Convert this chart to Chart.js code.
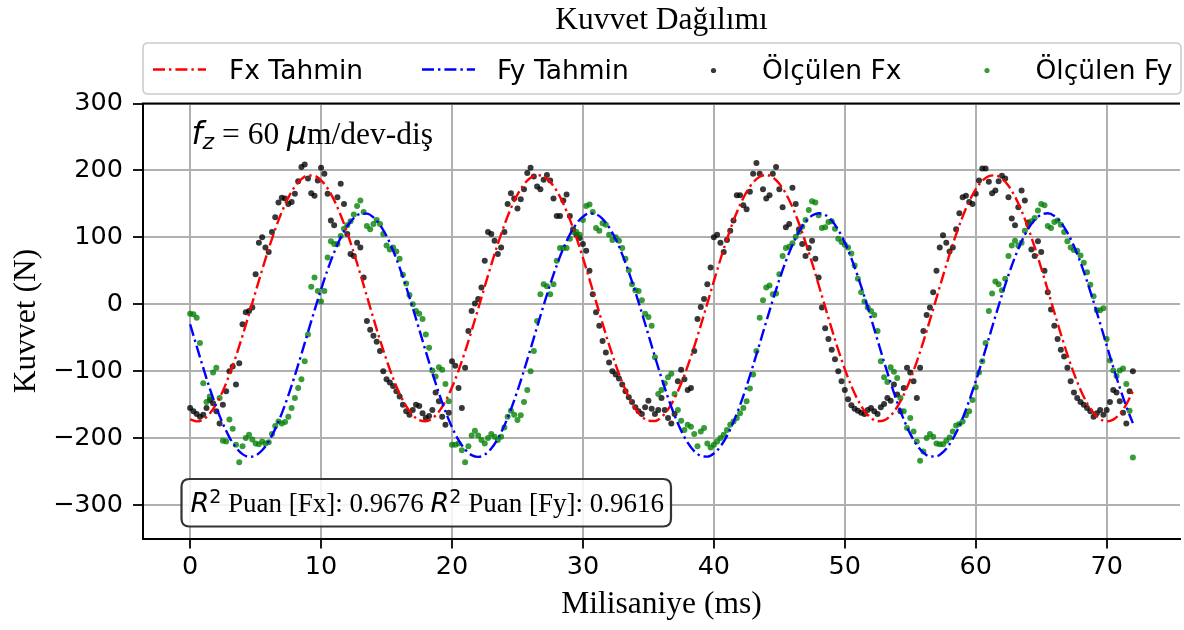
<!DOCTYPE html>
<html><head><meta charset="utf-8">
<script src="https://cdn.jsdelivr.net/npm/chart.js@4"></script>
<style>html,body{margin:0;padding:0;background:#fff}</style>
</head><body>
<canvas id="c" width="1184" height="630"></canvas>
<script>
const chartTitle = 'Kuvvet Dağılımı';
const xAxisLabel = 'Milisaniye (ms)';
const yAxisLabel = 'Kuvvet (N)';
const seriesNames = ['Fx Tahmin', 'Fy Tahmin', 'Ölçülen Fx', 'Ölçülen Fy'];
const xTickValues = [0, 10, 20, 30, 40, 50, 60, 70];
const yTickValues = [-300, -200, -100, 0, 100, 200, 300];
const feedLabel = { sym: 'f', sub: 'z', mid: ' = 60 ', mu: 'μ', tail: 'm/dev-diş' };
const scoreLabel = ['Puan [Fx]: ', '0.9676', 'Puan [Fy]: ', '0.9616'];

const predictionStepMs = 0.5;
const measurementStepMs = 0.25;

const predFx = [
 -171.9,-175.0,-172.1,-163.3,-148.9,-129.4,-105.3,-77.6,-47.0,-14.5,
 18.7,51.5,83.0,112.1,137.9,159.4,176.0,187.1,192.5,191.9,
 185.3,173.1,155.4,133.0,106.5,76.8,45.0,12.0,-21.1,-53.3,
 -83.4,-110.5,-133.7,-152.2,-165.6,-173.2,-174.9,-170.5,-160.4,-144.7,
 -124.0,-99.0,-70.4,-39.3,-6.6,26.6,59.3,90.3,118.6,143.5,
 163.8,179.2,189.0,192.9,190.9,182.9,169.3,150.4,126.9,99.6,
 69.4,37.2,4.0,-29.0,-60.7,-90.2,-116.5,-138.6,-155.9,-167.9,
 -174.1,-174.4,-168.6,-157.1,-140.2,-118.3,-92.4,-63.2,-31.6,1.4,
 34.5,66.9,97.4,125.0,148.7,168.0,182.0,190.5,193.0,189.5,
 180.1,165.2,145.2,120.7,92.6,61.8,29.2,-4.0,-36.8,-68.1,
 -96.9,-122.2,-143.2,-159.4,-170.0,-174.7,-173.5,-166.4,-153.5,-135.3,
 -112.5,-85.6,-55.7,-23.7,9.3,42.4,74.4,104.3,131.0,153.8,
 171.8,184.6,191.6,192.7,187.8,177.1,160.8,139.6,114.3,85.4,
 54.1,21.3,-11.9,-44.5,-75.2,-103.3,-127.7,-147.6,-162.4,-171.6,
 -175.0,-172.4,-163.8,-149.6,-130.3
];
const predFy = [
 -29.9,-62.8,-95.1,-125.8,-153.9,-178.5,-198.8,-214.1,-223.9,-227.9,
 -226.0,-218.2,-204.9,-186.2,-163.1,-136.2,-106.3,-74.5,-41.7,-9.0,
 22.4,51.6,77.6,99.6,116.9,128.8,135.1,135.4,129.8,118.6,
 101.9,80.4,54.8,26.0,-5.3,-37.8,-70.6,-102.7,-132.8,-160.2,
 -183.8,-202.9,-216.9,-225.4,-228.0,-224.7,-215.5,-200.8,-181.1,-157.1,
 -129.2,-98.8,-66.6,-33.8,-1.4,29.7,58.2,83.3,104.2,120.2,
 130.9,135.7,134.6,127.7,115.0,97.2,74.6,48.2,18.7,-13.0,
 -45.7,-78.4,-110.1,-139.7,-166.2,-188.8,-206.8,-219.5,-226.5,-227.7,
 -223.0,-212.5,-196.6,-175.7,-150.7,-122.2,-91.2,-58.8,-25.9,6.2,
 36.7,64.5,88.7,108.5,123.3,132.5,136.0,133.5,125.2,111.2,
 92.2,68.6,41.4,11.2,-20.8,-53.6,-86.2,-117.4,-146.3,-172.0,
 -193.6,-210.3,-221.7,-227.4,-227.1,-221.0,-209.1,-192.0,-170.1,-144.1,
 -115.0,-83.5,-50.9,-18.1,13.8,43.7,70.7,93.9,112.5,126.0,
 133.9,135.9,132.0,122.3,107.1,87.0,62.4,34.4,3.7,-28.6,
 -61.5,-93.8,-124.6,-152.8,-177.6
];

const measuredFx = [
 -155,-160,-164,-168, -165,-155,-143,-148, -160,-178,-150,-130, -100,-93,-120,-88,
 -30,-12,-10,-5, 45,92,100,85, 78,108,130,152, 159,158,150,153,
 165,184,205,209, 188,166,162,185, 204,195,165,125, 118,160,180,150,
 105,75,72,92, 85,40,-25,-38, -47,-56,-70,-100, -112,-117,-122,-130,
 -138,-150,-160,-165, -158,-150,-152,-163, -170,-167,-158,-132, -145,-168,-180,-162,
 -85,-92,-125,-155, -95,-40,-10,1, 8,25,65,108, 105,95,75,85,
 108,150,166,158, 143,157,172,196, 204,191,176,172, 186,193,185,158,
 132,132,155,164, 132,112,104,99, 90,80,50,15, -12,-32,-55,-72,
 -87,-100,-105,-111, -120,-130,-139,-146, -154,-160,-164,-154, -144,-156,-164,-158,
 -140,-158,-170,-178, -164,-115,-98,-112, -128,-125,-70,-22, -4,8,30,55,
 100,104,92,78, 96,110,125,163, 163,148,142,168, 195,211,195,172,
 158,163,195,205, 172,145,115,120, 174,150,112,90, 72,84,95,68,
 40,-5,-36,-52, -68,-82,-100,-115, -128,-142,-151,-156, -159,-162,-164,-158,
 -155,-160,-164,-154, -149,-140,-144,-120, -135,-160,-125,-95, -102,-115,-140,-95,
 -40,-16,-5,18, 50,85,103,92, 79,85,112,136, 160,162,153,150,
 165,185,203,203, 183,166,170,184, 192,188,160,128, 118,145,170,155,
 122,82,72,94, 78,50,18,-8, -32,-52,-68,-78, -95,-115,-132,-140,
 -146,-150,-155,-160, -168,-163,-158,-165, -158,-146,-128,-132, -145,-162,-178,-130,
 -100
];
const measuredFy = [
 -14,-15,-20,-58, -118,-146,-138,-102, -95,-140,-204,-205, -172,-186,-210,-236,
 -212,-200,-195,-202, -208,-209,-205,-208, -206,-194,-182,-175, -178,-176,-168,-155,
 -140,-125,-112,-85, -45,26,40,20, 4,20,70,94, 90,90,102,113,
 118,124,134,147, 155,138,117,112, 120,126,120,105, 88,82,85,79,
 68,44,31,14, 0,-10,-14,-22, -45,-65,-99,-108, -94,-98,-119,-145,
 -210,-210,-208,-218, -236,-212,-196,-189, -196,-203,-208,-200, -194,-198,-203,-198,
 -184,-168,-159,-165, -173,-166,-146,-128, -100,-70,-25,15, 30,27,15,30,
 65,84,84,84, 98,108,108,104, 126,147,149,138, 114,110,121,119,
 104,96,100,95, 84,68,51,30, 21,20,6,-14, -19,-32,-79,-134,
 -128,-118,-109,-104, -134,-158,-174,-188, -180,-183,-194,-212, -190,-185,-208,-214,
 -210,-205,-200,-195, -188,-180,-175,-170, -163,-155,-145,-126, -105,-70,-20,6,
 25,28,15,16, 45,72,84,86, 91,101,108,116, 126,141,154,152,
 133,114,115,123, 124,113,98,93, 89,85,76,58, 38,18,4,-5,
 -10,-16,-40,-85, -109,-116,-94,-101, -110,-140,-160,-185, -170,-190,-205,-234,
 -220,-200,-194,-198, -208,-209,-209,-204, -199,-190,-181,-179, -175,-166,-160,-143,
 -124,-102,-85,-58, -10,16,34,30, 21,38,72,88, 95,88,92,110,
 119,124,129,140, 150,148,117,114, 123,125,119,108, 94,85,81,80,
 73,62,48,29, 12,-9,-9,-6, -52,-84,-99,-107, -99,-96,-119,-159,
 -229
];

const RED = '#ff0000', BLUE = '#0000ff';
const DOT_K = 'rgba(0,0,0,0.78)', DOT_G = 'rgba(0,128,0,0.78)';
const DASH = [12, 4, 2.4, 4];
const SERIF = '"Liberation Serif", "Times New Roman", serif';
const SANS = '"DejaVu Sans", sans-serif';

const toPts = (arr, step) => arr.map((v, i) => ({ x: i * step, y: v }));
const fmt = v => String(v).replace('-', '\u2212');

function drawRuns(ctx, runs, x, base) {
  for (const r of runs) {
    ctx.font = r.font;
    ctx.fillText(r.text, x, base + (r.dy || 0));
    x += ctx.measureText(r.text).width;
  }
  return x;
}
function rrect(ctx, x, y, w, h, r) {
  ctx.beginPath();
  ctx.moveTo(x + r, y); ctx.lineTo(x + w - r, y); ctx.quadraticCurveTo(x + w, y, x + w, y + r);
  ctx.lineTo(x + w, y + h - r); ctx.quadraticCurveTo(x + w, y + h, x + w - r, y + h);
  ctx.lineTo(x + r, y + h); ctx.quadraticCurveTo(x, y + h, x, y + h - r);
  ctx.lineTo(x, y + r); ctx.quadraticCurveTo(x, y, x + r, y); ctx.closePath();
}

const decor = {
  id: 'decor',
  afterDraw(chart) {
    const { ctx, chartArea: ca } = chart;
    ctx.save();
    ctx.strokeStyle = '#000'; ctx.lineWidth = 2;
    ctx.beginPath(); ctx.moveTo(ca.left - 1, ca.top); ctx.lineTo(ca.right, ca.top); ctx.stroke();

    rrect(ctx, ca.left, 43, 1181 - ca.left, 51, 5);
    ctx.fillStyle = 'rgba(255,255,255,0.85)'; ctx.fill();
    ctx.strokeStyle = '#cccccc'; ctx.lineWidth = 1.6; ctx.stroke();
    const ly = 69.5, lb = 79;
    const items = [
      { kind: 'line', color: RED, x0: 153, x1: 206, tx: 229 },
      { kind: 'line', color: BLUE, x0: 422, x1: 475, tx: 497 },
      { kind: 'dot', color: DOT_K, cx: 713.5, tx: 762 },
      { kind: 'dot', color: DOT_G, cx: 987, tx: 1035.5 }
    ];
    items.forEach((it, i) => {
      if (it.kind === 'line') {
        ctx.save();
        ctx.strokeStyle = it.color; ctx.lineWidth = 2.4; ctx.setLineDash(DASH);
        ctx.beginPath(); ctx.moveTo(it.x0, ly); ctx.lineTo(it.x1, ly); ctx.stroke();
        ctx.restore();
      } else {
        ctx.fillStyle = it.color;
        ctx.beginPath(); ctx.arc(it.cx, ly + 1, 2.6, 0, Math.PI * 2); ctx.fill();
      }
      ctx.fillStyle = '#000'; ctx.font = '26.5px ' + SANS; ctx.textBaseline = 'alphabetic';
      ctx.fillText(seriesNames[i], it.tx, lb);
    });

    ctx.fillStyle = '#000'; ctx.textBaseline = 'alphabetic';
    drawRuns(ctx, [
      { text: feedLabel.sym, font: 'italic 31.5px ' + SANS },
      { text: feedLabel.sub, font: 'italic 22px ' + SANS, dy: 5 },
      { text: feedLabel.mid, font: '31.5px ' + SERIF },
      { text: feedLabel.mu, font: 'italic 31.5px ' + SANS },
      { text: feedLabel.tail, font: '31.5px ' + SERIF }
    ], 191.5, 144);

    rrect(ctx, 181.5, 479, 489.5, 47.5, 8);
    ctx.fillStyle = 'rgba(255,255,255,0.85)'; ctx.fill();
    ctx.strokeStyle = '#333333'; ctx.lineWidth = 2.2; ctx.stroke();
    ctx.fillStyle = '#000';
    drawRuns(ctx, [
      { text: 'R', font: 'italic 27px ' + SANS },
      { text: '2', font: '19px ' + SANS, dy: -9 },
      { text: ' ' + scoreLabel[0] + scoreLabel[1] + ' ', font: '27px ' + SERIF },
      { text: 'R', font: 'italic 27px ' + SANS },
      { text: '2', font: '19px ' + SANS, dy: -9 },
      { text: ' ' + scoreLabel[2] + scoreLabel[3], font: '27px ' + SERIF }
    ], 190.5, 511.5);
    ctx.restore();
  }
};

new Chart(document.getElementById('c'), {
  type: 'scatter',
  data: {
    datasets: [
      { label: seriesNames[0], data: toPts(predFx, predictionStepMs), showLine: true, order: 1,
        borderColor: RED, backgroundColor: RED, borderWidth: 2.4, borderDash: DASH,
        pointRadius: 0, cubicInterpolationMode: 'monotone', fill: false },
      { label: seriesNames[1], data: toPts(predFy, predictionStepMs), showLine: true, order: 0,
        borderColor: BLUE, backgroundColor: BLUE, borderWidth: 2.4, borderDash: DASH,
        pointRadius: 0, cubicInterpolationMode: 'monotone', fill: false },
      { label: seriesNames[2], data: toPts(measuredFx, measurementStepMs), showLine: false, order: 3,
        pointRadius: 3, pointBorderWidth: 0, backgroundColor: DOT_K, borderColor: DOT_K },
      { label: seriesNames[3], data: toPts(measuredFy, measurementStepMs), showLine: false, order: 2,
        pointRadius: 3, pointBorderWidth: 0, backgroundColor: DOT_G, borderColor: DOT_G }
    ]
  },
  options: {
    responsive: false, animation: false, devicePixelRatio: 1,
    layout: { padding: { left: 0, right: 0, top: 0, bottom: 0 } },
    plugins: {
      legend: { display: false },
      tooltip: { enabled: false },
      title: { display: true, text: chartTitle, fullSize: false, color: '#000',
        font: { family: SERIF, size: 31.5, weight: 'normal' }, padding: { top: 2, bottom: 63.7 } }
    },
    scales: {
      x: {
        type: 'linear', min: -3.6, max: 75.6,
        afterBuildTicks: s => { s.ticks = xTickValues.map(v => ({ value: v })); },
        afterFit: s => { s.height = 91.5; },
        ticks: { color: '#000', font: { family: SANS, size: 25.5 }, padding: 4, autoSkip: false, maxRotation: 0, callback: v => fmt(v) },
        grid: { color: '#b0b0b0', lineWidth: 2, drawTicks: true, tickLength: 10, tickColor: '#000', tickWidth: 1.8 },
        border: { display: true, color: '#000', width: 2 },
        title: { display: true, text: xAxisLabel, color: '#000', font: { family: SERIF, size: 31.5, weight: 'normal' }, padding: { top: 0, bottom: 6 } }
      },
      y: {
        type: 'linear', min: -350, max: 300,
        afterBuildTicks: s => { s.ticks = yTickValues.map(v => ({ value: v })); },
        afterFit: s => { s.width = 143; },
        ticks: { color: '#000', font: { family: SANS, size: 25.5 }, padding: 10, autoSkip: false, callback: v => fmt(v) },
        grid: { color: '#b0b0b0', lineWidth: 2, drawTicks: true, tickLength: 10, tickColor: '#000', tickWidth: 1.8 },
        border: { display: true, color: '#000', width: 2 },
        title: { display: true, text: yAxisLabel, color: '#000', font: { family: SERIF, size: 31.5, weight: 'normal' }, padding: { top: 8, bottom: 0 } }
      }
    }
  },
  plugins: [decor]
});
</script>
</body></html>
